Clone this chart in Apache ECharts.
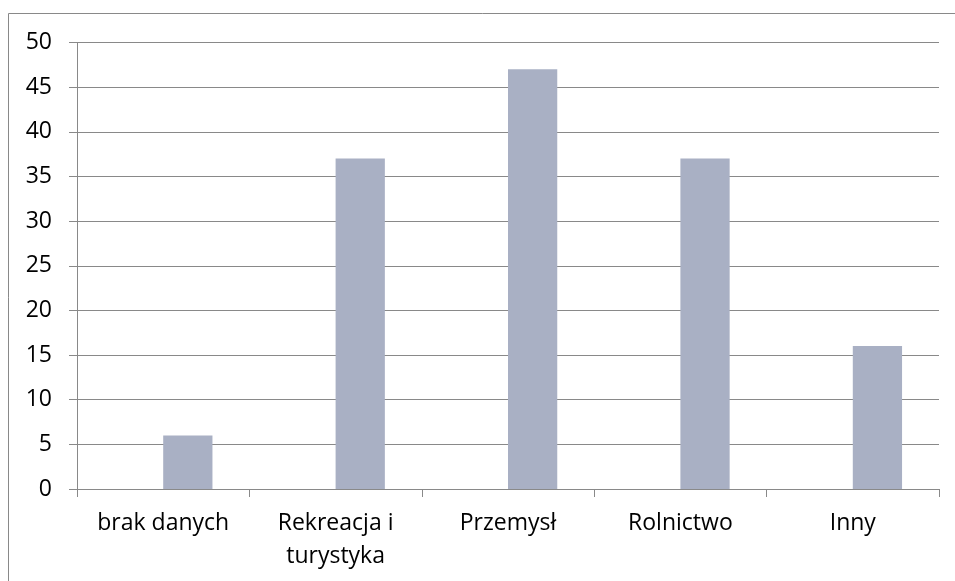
<!DOCTYPE html>
<html>
<head>
<meta charset="utf-8">
<script src="https://cdn.jsdelivr.net/npm/echarts@6/dist/echarts.min.js"></script>
<style>
html,body{margin:0;padding:0;background:#fff;}
#c{width:955px;height:581px;}
</style>
</head>
<body>
<div id="c"></div>
<script>
const categories = ['brak danych', 'Rekreacja i\nturystyka', 'Przemysł', 'Rolnictwo', 'Inny'];
const placeholderSeries = ['-', '-', '-', '-', '-'];
const values = [6, 37, 47, 37, 16];
const yTicks = { min: 0, max: 50, interval: 5 };

const gray = '#898989';
const font = '"Open Sans", sans-serif';
const chart = echarts.init(document.getElementById('c'), null, { renderer: 'canvas' });
chart.setOption({
  animation: false,
  backgroundColor: '#fff',
  graphic: [{
    type: 'rect',
    shape: { x: 8.5, y: 13.5, width: 1000, height: 700 },
    style: { fill: 'none', stroke: gray, lineWidth: 1 },
    silent: true
  }],
  grid: { left: 77, right: 16, top: 42.5, bottom: 92, containLabel: false },
  xAxis: {
    type: 'category',
    data: categories,
    axisLine: { show: true, lineStyle: { color: gray, width: 1 } },
    axisTick: { show: true, length: 8, interval: 0, lineStyle: { color: gray } },
    axisLabel: { interval: 0, color: '#000', fontFamily: font, fontSize: 23, lineHeight: 33, margin: 18 },
    splitLine: { show: false }
  },
  yAxis: {
    type: 'value',
    min: yTicks.min, max: yTicks.max, interval: yTicks.interval,
    axisLine: { show: true, lineStyle: { color: gray, width: 1 } },
    axisTick: { show: true, length: 8, lineStyle: { color: gray } },
    axisLabel: { color: '#000', fontFamily: font, fontSize: 23, margin: 25 },
    splitLine: { show: true, lineStyle: { color: gray, width: 1 } }
  },
  series: [
    { type: 'bar', data: placeholderSeries, barGap: '0%', barCategoryGap: '42.86%', itemStyle: { color: '#A9B0C4' } },
    { type: 'bar', data: values, barGap: '0%', barCategoryGap: '42.86%', itemStyle: { color: '#A9B0C4' } }
  ]
});
</script>
</body>
</html>
